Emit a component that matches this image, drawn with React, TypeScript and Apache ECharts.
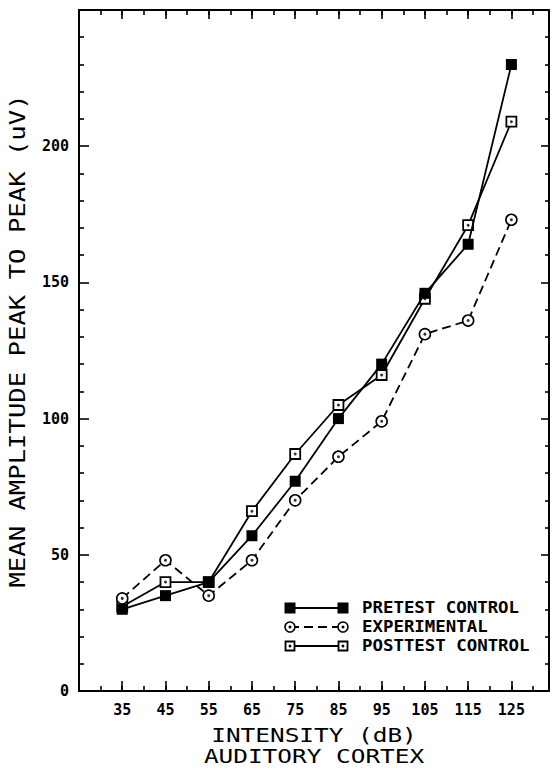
import React, { useEffect, useRef } from 'react';
import * as echarts from 'echarts';

const intensities = [35, 45, 55, 65, 75, 85, 95, 105, 115, 125];
const pretestControl = [30, 35, 40, 57, 77, 100, 120, 146, 164, 230];
const experimental = [34, 48, 35, 48, 70, 86, 99, 131, 136, 173];
const posttestControl = [31, 40, 40, 66, 87, 105, 116, 144, 171, 209];

const xTitle = 'INTENSITY (dB)';
const xSubTitle = 'AUDITORY CORTEX';
const yTitle = 'MEAN AMPLITUDE PEAK TO PEAK (uV)';
const legendNames = ['PRETEST CONTROL', 'EXPERIMENTAL', 'POSTTEST CONTROL'];

const MONO = '"DejaVu Sans Mono", "Liberation Mono", monospace';
const pairs = (ys: number[]) => intensities.map((x, i) => [x, ys[i]]);

const XMIN = 25;
const XMAX = 133.7;

const majorX = (position: 'top' | 'bottom', showLabel: boolean, len: number) => ({
  type: 'value',
  position,
  min: XMIN,
  max: XMAX,
  interval: 10,
  axisLine: { show: true, onZero: false, lineStyle: { color: '#000', width: 2 } },
  axisTick: { show: true, inside: true, length: len, lineStyle: { color: '#000', width: 1.6 } },
  axisLabel: {
    show: showLabel,
    margin: 11,
    color: '#000',
    fontFamily: MONO,
    fontWeight: 'bold',
    fontSize: 15,
    formatter: (v: number) => (v >= 35 && v <= 125 && (v - 35) % 10 === 0 ? String(v) : ''),
  },
  splitLine: { show: false },
});

const minorX = (position: 'top' | 'bottom', len: number) => ({
  type: 'value',
  position,
  min: XMIN,
  max: XMAX,
  interval: 5,
  axisLine: { show: false, onZero: false },
  axisTick: { show: true, inside: true, length: len, lineStyle: { color: '#000', width: 1.6 } },
  axisLabel: { show: false },
  splitLine: { show: false },
});

const yAx = (position: 'left' | 'right', showLabel: boolean, len: number, minorLen: number) => ({
  type: 'value',
  position,
  min: 0,
  max: 250,
  interval: 50,
  axisLine: { show: true, onZero: false, lineStyle: { color: '#000', width: 2 } },
  axisTick: { show: true, inside: true, length: len, lineStyle: { color: '#000', width: 1.6 } },
  minorTick: { show: true, splitNumber: 5, length: minorLen, lineStyle: { color: '#000', width: 1.6 } },
  axisLabel: {
    show: showLabel,
    margin: 10,
    color: '#000',
    fontFamily: MONO,
    fontWeight: 'bold',
    fontSize: 15,
    formatter: (v: number) => (v <= 200 ? String(v) : ''),
  },
  splitLine: { show: false },
  minorSplitLine: { show: false },
});

const LX1 = 290;
const LX2 = 343;
const LTX = 362;
const rows = [608, 627, 646];

const legendGraphics: any[] = [];
// Row 1: pretest
legendGraphics.push(
  { type: 'line', shape: { x1: LX1, y1: rows[0], x2: LX2, y2: rows[0] }, style: { stroke: '#000', lineWidth: 1.8 } },
  { type: 'rect', shape: { x: LX1 - 5.5, y: rows[0] - 5.5, width: 11, height: 11 }, style: { fill: '#000' } },
  { type: 'rect', shape: { x: LX2 - 5.5, y: rows[0] - 5.5, width: 11, height: 11 }, style: { fill: '#000' } },
);
// Row 2: experimental
legendGraphics.push(
  { type: 'line', shape: { x1: LX1, y1: rows[1], x2: LX2, y2: rows[1] }, style: { stroke: '#000', lineWidth: 1.8, lineDash: [9, 5] } },
  ...[LX1, LX2].flatMap((cx) => [
    { type: 'circle', shape: { cx, cy: rows[1], r: 5 }, style: { fill: '#fff', stroke: '#000', lineWidth: 1.6 } },
    { type: 'circle', shape: { cx, cy: rows[1], r: 1.5 }, style: { fill: '#000' } },
  ]),
);
// Row 3: posttest
legendGraphics.push(
  { type: 'line', shape: { x1: LX1, y1: rows[2], x2: LX2, y2: rows[2] }, style: { stroke: '#000', lineWidth: 1.8 } },
  ...[LX1, LX2].flatMap((cx) => [
    { type: 'rect', shape: { x: cx - 4.5, y: rows[2] - 4.5, width: 9, height: 9 }, style: { fill: '#fff', stroke: '#000', lineWidth: 1.8 } },
    { type: 'circle', shape: { cx, cy: rows[2], r: 1.4 }, style: { fill: '#000' } },
  ]),
);
legendNames.forEach((name, i) => {
  legendGraphics.push({
    type: 'text',
    x: LTX,
    y: rows[i],
    scaleX: 1.16,
    style: {
      text: name,
      font: `bold 15px ${MONO}`,
      fill: '#000',
      align: 'left',
      verticalAlign: 'middle',
      textAlign: 'left',
      textVerticalAlign: 'middle',
    },
  });
});

const titleGraphics = [
  {
    type: 'text',
    x: 314,
    y: 735,
    scaleX: 1.22,
    style: { text: xTitle, font: `20px ${MONO}`, fill: '#000', align: 'center', verticalAlign: 'middle', textAlign: 'center', textVerticalAlign: 'middle' },
  },
  {
    type: 'text',
    x: 314,
    y: 756,
    scaleX: 1.22,
    style: { text: xSubTitle, font: `20px ${MONO}`, fill: '#000', align: 'center', verticalAlign: 'middle', textAlign: 'center', textVerticalAlign: 'middle' },
  },
  {
    type: 'text',
    x: 18,
    y: 341,
    rotation: Math.PI / 2,
    scaleX: 1.22,
    style: { text: yTitle, font: `21px ${MONO}`, fill: '#000', align: 'center', verticalAlign: 'middle', textAlign: 'center', textVerticalAlign: 'middle' },
  },
];

const dotSeries = (ys: number[], name: string) => ({
  type: 'scatter',
  name,
  data: pairs(ys),
  symbol: 'circle',
  symbolSize: 3,
  itemStyle: { color: '#000' },
  z: 10,
  silent: true,
});

export default function App() {
  const ref = useRef<HTMLDivElement>(null);
  useEffect(() => {
    const chart = echarts.init(ref.current!, null, { renderer: 'svg' });
    chart.setOption({
      animation: false,
      backgroundColor: '#fff',
      grid: { left: 79, right: 2, top: 10, bottom: 79, containLabel: false },
      xAxis: [majorX('bottom', true, 10), minorX('bottom', 5), majorX('top', false, 9), minorX('top', 5)],
      yAxis: [yAx('left', true, 10, 5), yAx('right', false, 8, 4)],
      series: [
        {
          type: 'line',
          name: legendNames[2],
          data: pairs(posttestControl),
          symbol: 'rect',
          symbolSize: 10,
          lineStyle: { color: '#000', width: 1.8 },
          itemStyle: { color: '#fff', borderColor: '#000', borderWidth: 1.8 },
          z: 3,
        },
        dotSeries(posttestControl, 'post-dots'),
        {
          type: 'line',
          name: legendNames[1],
          data: pairs(experimental),
          symbol: 'circle',
          symbolSize: 11,
          lineStyle: { color: '#000', width: 1.8, type: [9, 5] },
          itemStyle: { color: '#fff', borderColor: '#000', borderWidth: 1.6 },
          z: 4,
        },
        dotSeries(experimental, 'exp-dots'),
        {
          type: 'line',
          name: legendNames[0],
          data: pairs(pretestControl),
          symbol: 'rect',
          symbolSize: 11,
          lineStyle: { color: '#000', width: 1.8 },
          itemStyle: { color: '#000', borderColor: '#000', borderWidth: 0 },
          z: 5,
        },
      ],
      graphic: [...legendGraphics, ...titleGraphics],
    });
    return () => chart.dispose();
  }, []);
  return <div ref={ref} style={{ position: 'absolute', left: 0, top: 0, width: 552, height: 770 }} />;
}
